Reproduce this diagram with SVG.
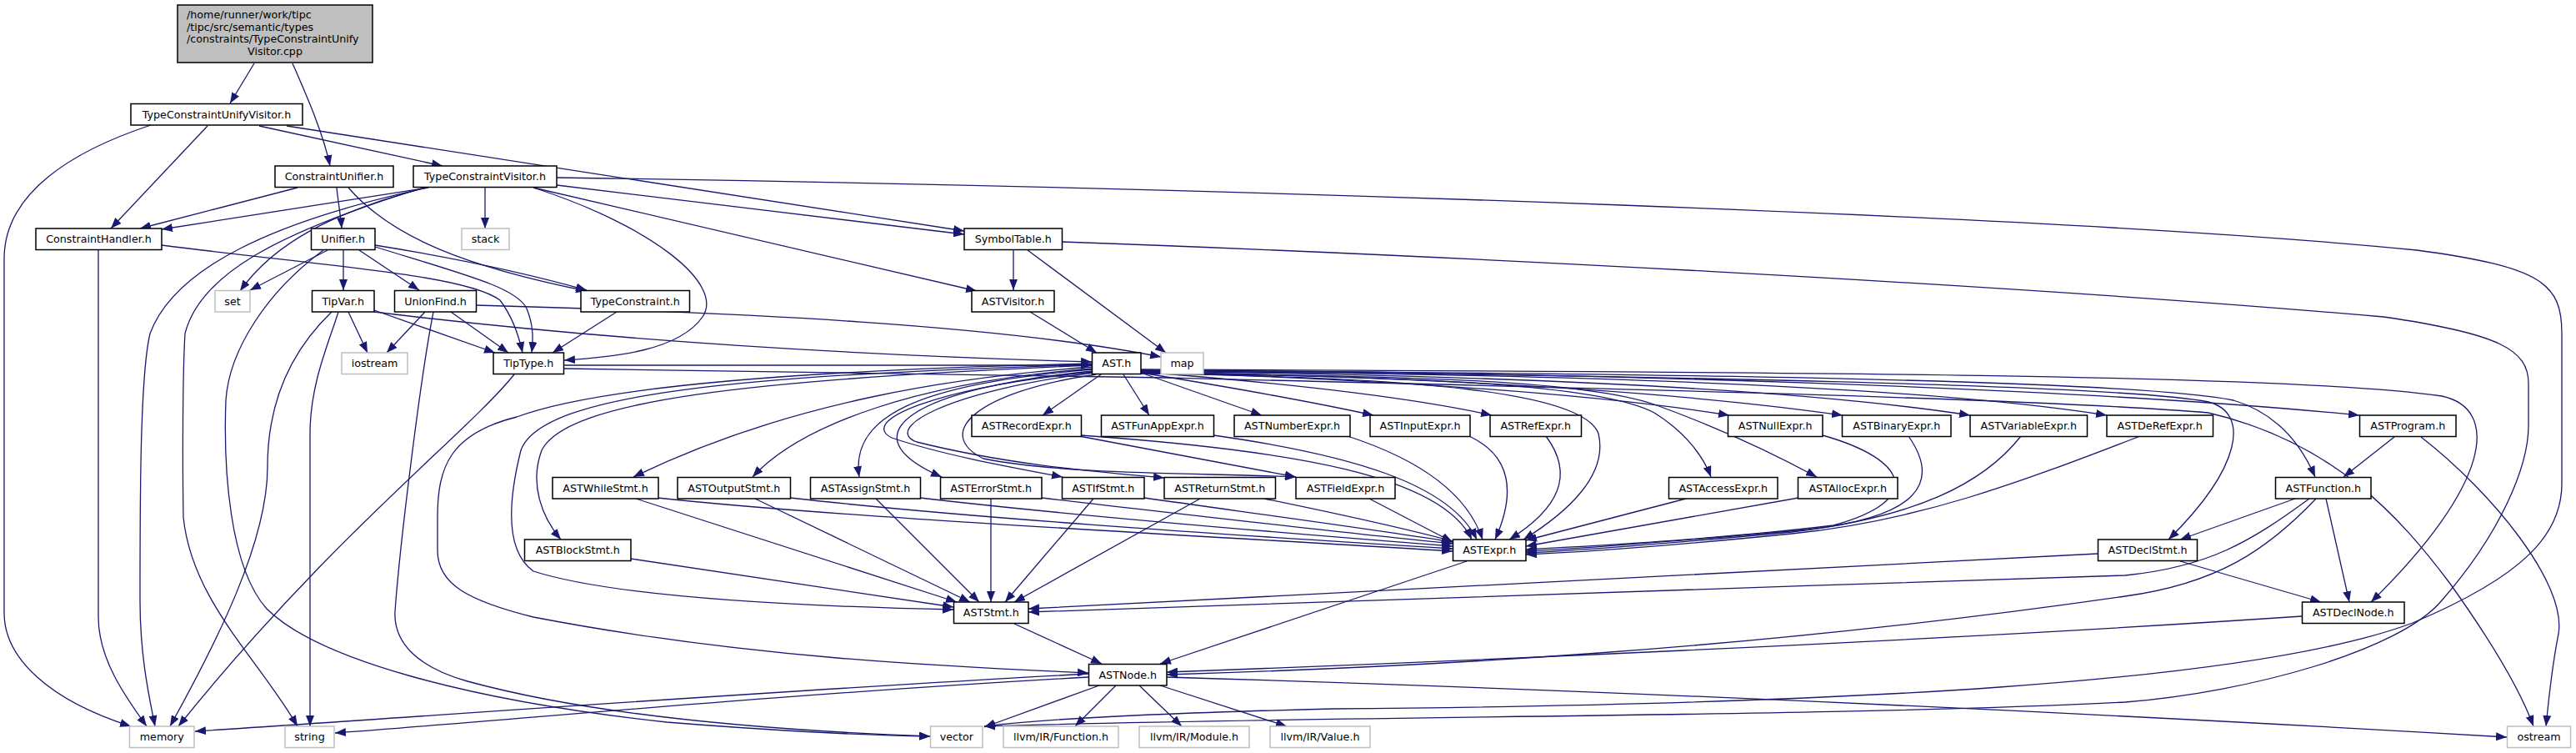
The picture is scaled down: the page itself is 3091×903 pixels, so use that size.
<svg xmlns="http://www.w3.org/2000/svg" width="3091" height="903" viewBox="0 0 3091 903">
<defs>
<style>
.n rect{fill:#fff;stroke:#000;stroke-width:1.5}
.g rect{fill:#fff;stroke:#bfbfbf;stroke-width:1.5}
.r rect{fill:#bfbfbf;stroke:#000;stroke-width:1.5}
text{font-family:"DejaVu Sans","Liberation Sans",sans-serif;font-size:12.7px;fill:#000;text-anchor:middle}
.e path{fill:none;stroke:#191970;stroke-width:1.3;marker-end:url(#a)}
</style>
<marker id="a" markerUnits="userSpaceOnUse" markerWidth="13" markerHeight="10" refX="13" refY="5" orient="auto"><path d="M0,0 L13,5 L0,10 z" fill="#191970"/></marker>
</defs>
<rect width="3091" height="903" fill="#fff"/>
<g class="e" id="edges">
<path d="M305,76 L276,124"/>
<path d="M351,76 C368,115 388,160 396,199"/>
<path d="M181,150 C90,180 5,230 5,310 L5,735 C5,790 60,840 157,871"/>
<path d="M249,151 L133,274"/>
<path d="M311,151 L531,199"/>
<path d="M344,151 L1157,277"/>
<path d="M357,225 L168,274"/>
<path d="M404,225 C406,245 409,260 410,274"/>
<path d="M418,225 C470,285 560,320 704,349"/>
<path d="M514,225 L194,275"/>
<path d="M510,225 C400,255 330,290 288,349"/>
<path d="M513,225 C330,265 210,320 180,400 C168,450 168,600 168,720 C168,790 180,840 186,871"/>
<path d="M505,226 C330,280 240,330 222,400 C219,450 219,560 220,620 C230,720 310,790 357,871"/>
<path d="M582,225 L582,274"/>
<path d="M668,222 L1157,281"/>
<path d="M640,225 L1172,349"/>
<path d="M640,225 C780,270 870,340 843,380 C815,420 740,428 677,432"/>
<path d="M668,213 C1500,225 2500,260 2900,300 C3050,320 3074,340 3074,400 L3074,580 C3074,640 3030,690 2895,747 C2700,820 2200,845 1600,850 C1400,855 1250,862 1181,871"/>
<path d="M393,300 L300,348"/>
<path d="M412,300 L412,348"/>
<path d="M431,300 L503,348"/>
<path d="M450,294 C550,310 640,330 704,348"/>
<path d="M450,296 C560,330 620,345 632,370 C640,390 640,405 638,423"/>
<path d="M388,300 C320,350 275,420 271,480 C268,560 275,680 320,730 C380,790 560,840 800,866 C950,878 1050,882 1116,883"/>
<path d="M520,374 C505,450 480,650 474,733 C472,770 500,800 561,817 C700,855 900,875 1116,883"/>
<path d="M418,374 L441,423"/>
<path d="M398,374 C350,420 321,480 321,560 C321,650 260,770 204,871"/>
<path d="M406,374 C395,410 372,460 372,520 L372,871"/>
<path d="M449,372 L594,423"/>
<path d="M449,374 C700,405 1000,425 1310,434"/>
<path d="M510,374 L464,423"/>
<path d="M541,374 L610,423"/>
<path d="M571,366 C900,375 1200,390 1393,428"/>
<path d="M118,299 L118,740 C118,790 150,835 176,871"/>
<path d="M194,294 C400,320 560,330 600,360 C615,380 622,400 627,423"/>
<path d="M740,374 L663,423"/>
<path d="M1216,300 L1216,348"/>
<path d="M1233,300 L1399,423"/>
<path d="M1274,290 C1700,305 2400,340 2860,380 C3000,400 3034,420 3034,460 L3034,510 C3034,560 3000,640 2930,720 C2880,780 2700,830 2550,842 C2200,860 1600,858 1181,871"/>
<path d="M1236,374 L1316,423"/>
<path d="M617,449 C560,520 400,640 214,871"/>
<path d="M677,438 L1310,438"/>
<path d="M677,442 C1000,447 1300,450 1400,453 C1900,465 2450,478 2650,495 C2800,530 2880,620 2940,700 C2990,770 3025,830 3040,871"/>
<path d="M1321,449 L1251,498"/>
<path d="M1348,449 L1379,498"/>
<path d="M1369,447 L1514,498"/>
<path d="M1369,447 C1480,465 1580,483 1648,498"/>
<path d="M1369,446 C1550,460 1700,478 1790,498"/>
<path d="M1369,446 C1650,455 1900,470 2075,498"/>
<path d="M1369,446 C1700,452 2000,468 2211,498"/>
<path d="M1369,445 C1800,450 2150,465 2364,498"/>
<path d="M1369,445 C1850,448 2300,462 2528,498"/>
<path d="M1369,444 C1900,446 2500,465 2831,498"/>
<path d="M1369,444 C2000,448 2550,455 2680,480 C2730,495 2760,530 2778,572"/>
<path d="M1369,445 C2000,450 2550,462 2650,482 C2700,495 2690,560 2602,647"/>
<path d="M1369,443 C2100,446 2750,448 2930,475 C3000,490 2990,580 2845,722"/>
<path d="M1369,447 C1700,452 1920,460 1985,495 C2025,520 2045,550 2053,572"/>
<path d="M1369,447 C1700,451 1900,456 1985,485 C2060,512 2130,545 2180,572"/>
<path d="M1369,448 C1700,452 1900,470 1918,520 C1930,570 1880,615 1828,647"/>
<path d="M1315,449 C1170,470 1120,520 1180,550 C1280,570 1450,567 1555,572"/>
<path d="M1312,447 C1130,470 1060,515 1100,530 C1200,555 1300,565 1397,573"/>
<path d="M1311,446 C1120,465 1030,505 1070,525 C1130,545 1200,558 1275,572"/>
<path d="M1311,445 C1100,465 1010,520 1130,572"/>
<path d="M1311,443 C1100,460 1020,500 1031,572"/>
<path d="M1311,442 C1100,458 960,510 903,572"/>
<path d="M1311,440 C1150,452 950,480 760,572"/>
<path d="M1311,438 C900,455 680,480 650,540 C635,580 650,620 673,647"/>
<path d="M1311,437 C900,450 650,470 625,540 C610,600 605,660 640,685 C750,720 1000,728 1144,731"/>
<path d="M1311,436 C900,445 700,470 620,500 C540,520 525,560 525,620 L525,660 C525,700 560,720 640,740 C900,790 1150,800 1306,807"/>
<path d="M1297,522 C1550,540 1730,570 1766,647"/>
<path d="M1456,522 C1620,545 1740,580 1772,647"/>
<path d="M1617,523 C1700,550 1760,590 1779,647"/>
<path d="M1763,523 C1820,550 1815,600 1794,647"/>
<path d="M1855,523 C1890,570 1870,610 1811,647"/>
<path d="M2187,522 C2290,551 2310,600 2200,630 C2050,648 1900,655 1831,659"/>
<path d="M2290,523 C2330,580 2300,620 2170,635 C2000,650 1900,658 1831,661"/>
<path d="M2425,523 C2380,580 2300,620 2150,638 C2000,652 1900,660 1831,663"/>
<path d="M2568,523 C2420,580 2300,625 2150,640 C2000,655 1900,662 1831,665"/>
<path d="M2023,598 L1831,648"/>
<path d="M2158,597 L1831,655"/>
<path d="M1643,598 L1743,650"/>
<path d="M789,597 C1000,620 1400,640 1743,661"/>
<path d="M948,597 C1150,620 1450,640 1743,658"/>
<path d="M1104,597 C1300,620 1550,640 1743,655"/>
<path d="M1250,597 C1450,620 1600,638 1743,652"/>
<path d="M1373,597 C1500,615 1650,635 1743,650"/>
<path d="M1517,598 C1600,615 1690,635 1743,649"/>
<path d="M763,598 L1148,722"/>
<path d="M906,598 L1164,722"/>
<path d="M1051,598 L1175,722"/>
<path d="M1189,598 L1189,722"/>
<path d="M1312,598 L1206,722"/>
<path d="M1440,598 L1217,722"/>
<path d="M757,670 L1144,728"/>
<path d="M2517,664 C2100,685 1600,712 1234,730"/>
<path d="M2771,598 C2700,650 2650,680 2550,690 C2100,705 1600,720 1234,734"/>
<path d="M1217,748 L1322,796"/>
<path d="M1760,673 L1392,796"/>
<path d="M2762,739 C2300,770 1700,795 1400,806"/>
<path d="M2779,598 C2720,660 2660,700 2550,715 C2100,780 1700,800 1400,809"/>
<path d="M2616,673 L2785,722"/>
<path d="M2754,598 L2616,647"/>
<path d="M2791,598 L2819,722"/>
<path d="M2873,524 L2812,572"/>
<path d="M2905,524 C2990,590 3080,700 3070,760 C3062,800 3058,840 3055,871"/>
<path d="M1295,523 L1555,572"/>
<path d="M1306,808 C900,830 500,860 234,877"/>
<path d="M1306,812 C900,835 600,865 402,879"/>
<path d="M1319,822 L1181,872"/>
<path d="M1339,822 L1290,871"/>
<path d="M1367,822 L1418,871"/>
<path d="M1392,822 L1544,871"/>
<path d="M1400,812 C2000,830 2600,860 3008,884"/>
</g>
<g id="n_root" class="r"><rect x="213" y="6" width="234" height="69"/>
<text x="224" y="22" style="text-anchor:start">/home/runner/work/tipc</text>
<text x="224" y="36.7" style="text-anchor:start">/tipc/src/semantic/types</text>
<text x="224" y="51.3" style="text-anchor:start">/constraints/TypeConstraintUnify</text>
<text x="330" y="66">Visitor.cpp</text></g>
<g id="n_tcuv" class="n"><rect x="157" y="124.5" width="206" height="25.5"/><text x="260" y="141.5">TypeConstraintUnifyVisitor.h</text></g>
<g id="n_cu" class="n"><rect x="330" y="199" width="142" height="25.5"/><text x="401" y="216">ConstraintUnifier.h</text></g>
<g id="n_tcv" class="n"><rect x="496" y="199" width="172" height="25.5"/><text x="582" y="216">TypeConstraintVisitor.h</text></g>
<g id="n_ch" class="n"><rect x="43" y="274" width="151" height="25.5"/><text x="118.5" y="291">ConstraintHandler.h</text></g>
<g id="n_unifier" class="n"><rect x="373.5" y="274" width="76.5" height="25.5"/><text x="411.75" y="291">Unifier.h</text></g>
<g id="n_stack" class="g"><rect x="554" y="274" width="57" height="25.5"/><text x="582.5" y="291">stack</text></g>
<g id="n_symtab" class="n"><rect x="1157" y="274" width="117.5" height="25.5"/><text x="1215.75" y="291">SymbolTable.h</text></g>
<g id="n_set" class="g"><rect x="258" y="348.5" width="42" height="25.5"/><text x="279" y="365.5">set</text></g>
<g id="n_tipvar" class="n"><rect x="374.5" y="348.5" width="74.5" height="25.5"/><text x="411.75" y="365.5">TipVar.h</text></g>
<g id="n_unionfind" class="n"><rect x="473.5" y="348.5" width="98" height="25.5"/><text x="522.5" y="365.5">UnionFind.h</text></g>
<g id="n_typeconstraint" class="n"><rect x="697" y="348.5" width="130.5" height="25.5"/><text x="762.25" y="365.5">TypeConstraint.h</text></g>
<g id="n_astvisitor" class="n"><rect x="1166" y="348.5" width="99" height="25.5"/><text x="1215.5" y="365.5">ASTVisitor.h</text></g>
<g id="n_iostream" class="g"><rect x="410" y="423" width="79" height="25.5"/><text x="449.5" y="440">iostream</text></g>
<g id="n_tiptype" class="n"><rect x="592" y="423" width="84.5" height="25.5"/><text x="634.25" y="440">TipType.h</text></g>
<g id="n_ast" class="n"><rect x="1310.5" y="423" width="58.5" height="25.5"/><text x="1339.75" y="440">AST.h</text></g>
<g id="n_map" class="g"><rect x="1393" y="423" width="51" height="25.5"/><text x="1418.5" y="440">map</text></g>
<g id="n_record" class="n"><rect x="1166" y="498" width="131.5" height="25.5"/><text x="1231.75" y="515">ASTRecordExpr.h</text></g>
<g id="n_funapp" class="n"><rect x="1321.5" y="498" width="135" height="25.5"/><text x="1389" y="515">ASTFunAppExpr.h</text></g>
<g id="n_number" class="n"><rect x="1481" y="498" width="139" height="25.5"/><text x="1550.5" y="515">ASTNumberExpr.h</text></g>
<g id="n_input" class="n"><rect x="1644" y="498" width="120" height="25.5"/><text x="1704" y="515">ASTInputExpr.h</text></g>
<g id="n_ref" class="n"><rect x="1788" y="498" width="109.5" height="25.5"/><text x="1842.75" y="515">ASTRefExpr.h</text></g>
<g id="n_null" class="n"><rect x="2073.5" y="498" width="113.5" height="25.5"/><text x="2130.25" y="515">ASTNullExpr.h</text></g>
<g id="n_binary" class="n"><rect x="2210.5" y="498" width="130.5" height="25.5"/><text x="2275.75" y="515">ASTBinaryExpr.h</text></g>
<g id="n_variable" class="n"><rect x="2364" y="498" width="140.5" height="25.5"/><text x="2434.25" y="515">ASTVariableExpr.h</text></g>
<g id="n_deref" class="n"><rect x="2528" y="498" width="127.5" height="25.5"/><text x="2591.75" y="515">ASTDeRefExpr.h</text></g>
<g id="n_program" class="n"><rect x="2831.5" y="498" width="115.5" height="25.5"/><text x="2889.25" y="515">ASTProgram.h</text></g>
<g id="n_while" class="n"><rect x="663" y="572.5" width="127" height="25.5"/><text x="726.5" y="589.5">ASTWhileStmt.h</text></g>
<g id="n_output" class="n"><rect x="813" y="572.5" width="135.5" height="25.5"/><text x="880.75" y="589.5">ASTOutputStmt.h</text></g>
<g id="n_assign" class="n"><rect x="972.5" y="572.5" width="132" height="25.5"/><text x="1038.5" y="589.5">ASTAssignStmt.h</text></g>
<g id="n_error" class="n"><rect x="1128.5" y="572.5" width="121.5" height="25.5"/><text x="1189.25" y="589.5">ASTErrorStmt.h</text></g>
<g id="n_if" class="n"><rect x="1274.5" y="572.5" width="98.5" height="25.5"/><text x="1323.75" y="589.5">ASTIfStmt.h</text></g>
<g id="n_return" class="n"><rect x="1397" y="572.5" width="133.5" height="25.5"/><text x="1463.75" y="589.5">ASTReturnStmt.h</text></g>
<g id="n_field" class="n"><rect x="1555" y="572.5" width="119" height="25.5"/><text x="1614.5" y="589.5">ASTFieldExpr.h</text></g>
<g id="n_access" class="n"><rect x="2002.5" y="572.5" width="130.5" height="25.5"/><text x="2067.75" y="589.5">ASTAccessExpr.h</text></g>
<g id="n_alloc" class="n"><rect x="2157.5" y="572.5" width="119.5" height="25.5"/><text x="2217.25" y="589.5">ASTAllocExpr.h</text></g>
<g id="n_function" class="n"><rect x="2730.5" y="572.5" width="114.5" height="25.5"/><text x="2787.75" y="589.5">ASTFunction.h</text></g>
<g id="n_block" class="n"><rect x="629.5" y="647" width="127.5" height="25.5"/><text x="693.25" y="664">ASTBlockStmt.h</text></g>
<g id="n_expr" class="n"><rect x="1743.5" y="647" width="87.5" height="25.5"/><text x="1787.25" y="664">ASTExpr.h</text></g>
<g id="n_declstmt" class="n"><rect x="2517.5" y="647" width="119" height="25.5"/><text x="2577" y="664">ASTDeclStmt.h</text></g>
<g id="n_stmt" class="n"><rect x="1144.5" y="722" width="89.5" height="25.5"/><text x="1189.25" y="739">ASTStmt.h</text></g>
<g id="n_declnode" class="n"><rect x="2762.5" y="722" width="122.5" height="25.5"/><text x="2823.75" y="739">ASTDeclNode.h</text></g>
<g id="n_node" class="n"><rect x="1306.5" y="796.5" width="93.5" height="25.5"/><text x="1353.25" y="813.5">ASTNode.h</text></g>
<g id="n_memory" class="g"><rect x="155.5" y="871" width="77.5" height="25.5"/><text x="194.25" y="888">memory</text></g>
<g id="n_string" class="g"><rect x="342" y="871" width="59" height="25.5"/><text x="371.5" y="888">string</text></g>
<g id="n_vector" class="g"><rect x="1116.5" y="871" width="62.5" height="25.5"/><text x="1147.75" y="888">vector</text></g>
<g id="n_llvmfunc" class="g"><rect x="1204" y="871" width="138" height="25.5"/><text x="1273" y="888">llvm/IR/Function.h</text></g>
<g id="n_llvmmod" class="g"><rect x="1367" y="871" width="132" height="25.5"/><text x="1433" y="888">llvm/IR/Module.h</text></g>
<g id="n_llvmval" class="g"><rect x="1524" y="871" width="120" height="25.5"/><text x="1584" y="888">llvm/IR/Value.h</text></g>
<g id="n_ostream" class="g"><rect x="3008.5" y="871" width="76" height="25.5"/><text x="3046.5" y="888">ostream</text></g>
</svg>
